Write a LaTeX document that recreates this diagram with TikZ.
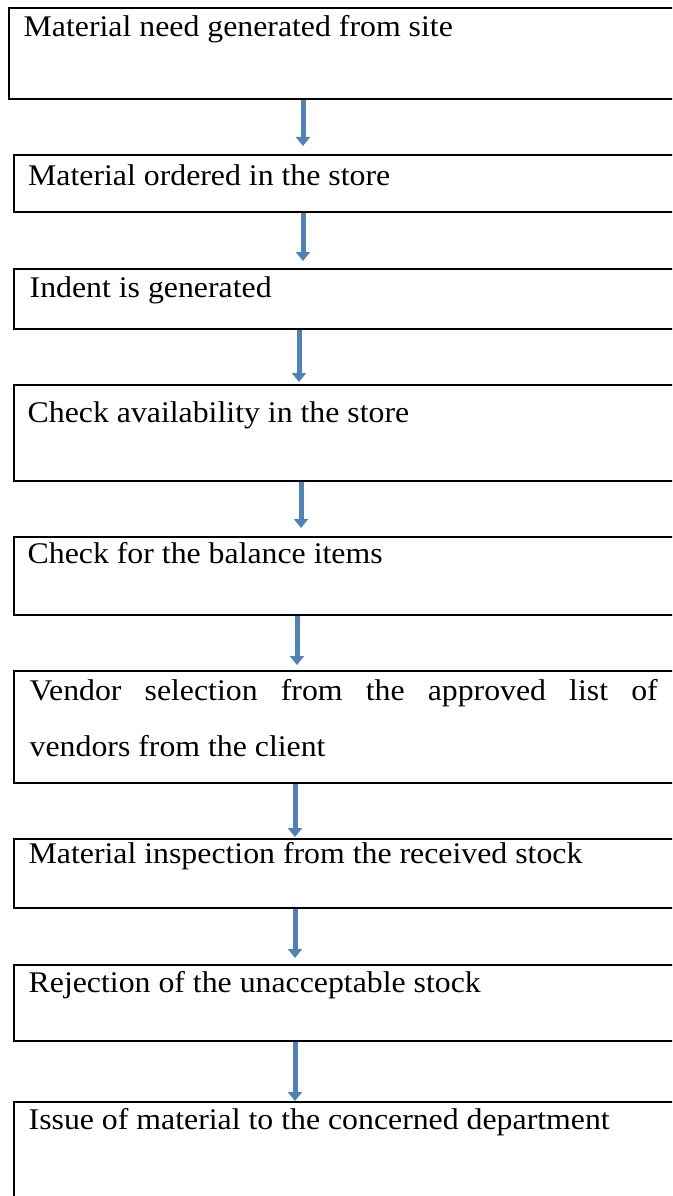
\documentclass[tikz,border=0pt]{standalone}
\usepackage{fontspec}
\setmainfont{Liberation Serif}[FakeStretch=1.06]
\usetikzlibrary{arrows.meta}

\definecolor{flowblue}{HTML}{4F81BD}

\tikzset{
  stepbox/.style={draw=black, line width=2pt, rectangle, anchor=north west,
    inner sep=0pt, minimum width=720pt},
  steptext/.style={anchor=base west, inner sep=0pt,
    font=\fontsize{30}{55}\selectfont},
  flow/.style={draw=flowblue, line width=5pt,
    -{Triangle[width=14pt,length=9pt]}}
}

\begin{document}
\begin{tikzpicture}[x=1pt,y=-1pt]
\useasboundingbox (0,0) rectangle (672,1196);
\clip (0,0) rectangle (672,1196);

% process boxes (they run on past the right edge of the page)
\node[stepbox, minimum height=90.2pt] (b1) at (8.3,7.5) {};
\node[stepbox, minimum height=57pt]   (b2) at (12.7,154) {};
\node[stepbox, minimum height=59.5pt] (b3) at (12.7,268) {};
\node[stepbox, minimum height=96pt]   (b4) at (12.7,384) {};
\node[stepbox, minimum height=78pt]   (b5) at (12.7,536) {};
\node[stepbox, minimum height=112pt]  (b6) at (12.7,670) {};
\node[stepbox, minimum height=69pt]   (b7) at (12.7,838) {};
\node[stepbox, minimum height=76pt]   (b8) at (12.7,964) {};
\node[stepbox, minimum height=130pt]  (b9) at (12.7,1101) {};

% box texts
\node[steptext] (t1) at (23.5,36.7) {Material need generated from site};
\node[steptext] (t2) at (28,185) {Material ordered in the store};
\node[steptext] (t3) at (29.5,297.5) {Indent is generated};
\node[steptext] (t4) at (27.5,422.7) {Check availability in the store};
\node[steptext] (t5) at (27.5,563) {Check for the balance items};
\node[steptext] (t6a) at (29.5,700.7) {\makebox[628pt][s]{Vendor selection from the approved list of}};
\node[steptext] (t6b) at (29.5,756) {vendors from the client};
\node[steptext] (t7) at (28.5,863) {Material inspection from the received stock};
\node[steptext] (t8) at (28.5,992.7) {Rejection of the unacceptable stock};
\node[steptext] (t9) at (28.5,1129) {Issue of material to the concerned department};

% x positions of the connecting arrows
\coordinate (x1) at (303,0);
\coordinate (x2) at (303,0);
\coordinate (x3) at (299,0);
\coordinate (x4) at (301,0);
\coordinate (x5) at (297,0);
\coordinate (x6) at (295,0);
\coordinate (x7) at (295,0);
\coordinate (x8) at (295,0);

% connecting arrows
\draw[flow, shorten >=8pt] (b1.south -| x1) -- (b2.north -| x1);
\draw[flow, shorten >=7pt] (b2.south -| x2) -- (b3.north -| x2);
\draw[flow, shorten >=2pt] (b3.south -| x3) -- (b4.north -| x3);
\draw[flow, shorten >=8pt] (b4.south -| x4) -- (b5.north -| x4);
\draw[flow, shorten >=5pt] (b5.south -| x5) -- (b6.north -| x5);
\draw[flow, shorten >=1pt] (b6.south -| x6) -- (b7.north -| x6);
\draw[flow, shorten >=6pt] (b7.south -| x7) -- (b8.north -| x7);
\draw[flow] (b8.south -| x8) -- (b9.north -| x8);
\end{tikzpicture}
\end{document}
